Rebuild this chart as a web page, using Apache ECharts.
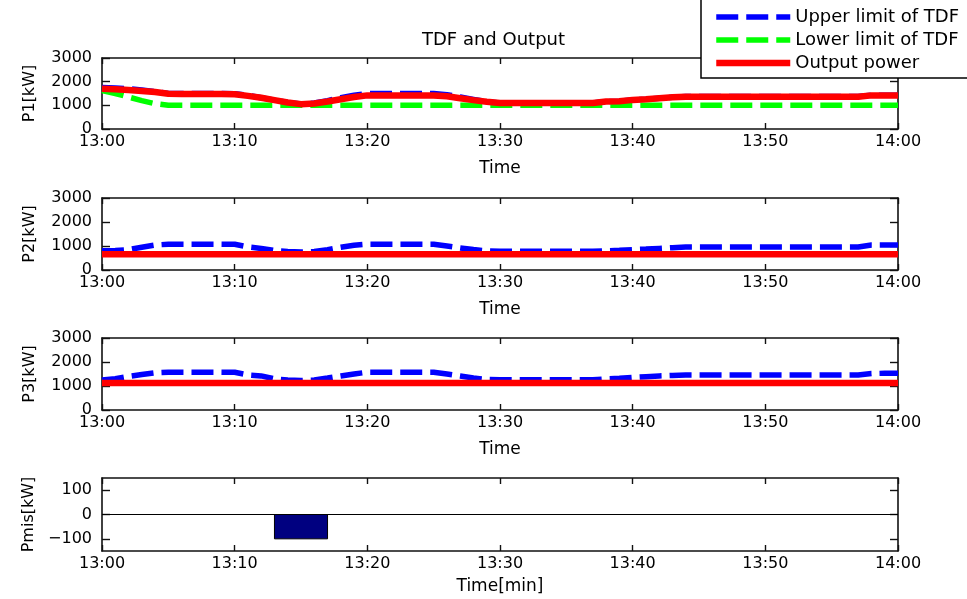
<!DOCTYPE html>
<html><head><meta charset="utf-8">
<script src="https://cdn.jsdelivr.net/npm/echarts@6/dist/echarts.min.js"></script>
<style>html,body{margin:0;padding:0;background:#fff}#c{width:967px;height:599px}</style>
</head><body><div id="c"></div>
<script>
// time in minutes after 13:00
const minutes = [0,1,2,3,4,5,6,7,8,9,10,11,12,13,14,15,16,17,18,19,20,21,22,23,24,25,26,27,28,29,30,
  31,32,33,34,35,36,37,38,39,40,41,42,43,44,45,46,47,48,49,50,51,52,53,54,55,56,57,58,59,60];
const timeTicks = [0,10,20,30,40,50,60];
const timeLabels = ['13:00','13:10','13:20','13:30','13:40','13:50','14:00'];

const p1Upper = [1750,1730,1700,1650,1580,1500,1500,1500,1500,1500,
  1490,1420,1320,1220,1120,1060,1100,1200,1320,1430,
  1500,1500,1500,1500,1500,1500,1450,1350,1250,1150,
  1100,1100,1100,1100,1100,1100,1100,1100,1160,1170,
  1230,1260,1300,1340,1370,1370,1370,1370,1370,1370,
  1370,1370,1370,1370,1370,1370,1370,1370,1430,1430,
  1430];
const p1Lower = [1620,1500,1350,1200,1070,1000,1000,1000,1000,1000,
  1000,1000,1000,1000,1000,1000,1000,1000,1000,1000,
  1000,1000,1000,1000,1000,1000,1000,1000,1000,1000,
  1000,1000,1000,1000,1000,1000,1000,1000,1000,1000,
  1000,1000,1000,1000,1000,1000,1000,1000,1000,1000,
  1000,1000,1000,1000,1000,1000,1000,1000,1000,1000,
  1000];
const p1Output = [1700,1680,1650,1610,1560,1490,1480,1480,1480,1480,
  1470,1400,1320,1220,1120,1050,1080,1160,1260,1350,
  1420,1420,1420,1420,1420,1420,1380,1300,1220,1150,
  1100,1100,1100,1100,1100,1100,1100,1100,1160,1170,
  1230,1260,1300,1340,1360,1360,1360,1360,1360,1360,
  1360,1360,1360,1360,1360,1360,1360,1360,1420,1420,
  1420];
const p2Upper = [800,810,850,950,1040,1075,1075,1075,1075,1075,
  1070,960,900,810,770,750,770,850,950,1030,
  1075,1075,1075,1075,1075,1075,1000,920,850,800,
  780,780,780,780,780,780,780,780,800,820,
  850,870,900,930,955,955,955,955,955,955,
  955,955,955,955,955,955,955,955,1040,1040,
  1040];
const p2Output = [660,660,660,660,660,660,660,660,660,660,
  660,660,660,660,660,660,660,660,660,660,
  660,660,660,660,660,660,660,660,660,660,
  660,660,660,660,660,660,660,660,660,660,
  660,660,660,660,660,660,660,660,660,660,
  660,660,660,660,660,660,660,660,660,660,
  660];
const p3Upper = [1250,1300,1400,1480,1550,1575,1575,1575,1575,1575,
  1570,1460,1420,1300,1250,1230,1250,1330,1420,1500,
  1575,1575,1575,1575,1575,1575,1500,1420,1330,1270,
  1260,1260,1260,1260,1260,1260,1260,1260,1300,1320,
  1360,1390,1420,1440,1460,1460,1460,1460,1460,1460,
  1460,1460,1460,1460,1460,1460,1460,1460,1520,1530,
  1530];
const p3Output = [1130,1130,1130,1130,1130,1130,1130,1130,1130,1130,
  1130,1130,1130,1130,1130,1130,1130,1130,1130,1130,
  1130,1130,1130,1130,1130,1130,1130,1130,1130,1130,
  1130,1130,1130,1130,1130,1130,1130,1130,1130,1130,
  1130,1130,1130,1130,1130,1130,1130,1130,1130,1130,
  1130,1130,1130,1130,1130,1130,1130,1130,1130,1130,
  1130];
const pmisStart = [13];
const pmisEnd = [17];
const pmisValue = [-100];
const pmisTicks = [-100,0,100];
const yNames = ['P1[kW]','P2[kW]','P3[kW]','Pmis[kW]'];
const xNames = ['Time','Time','Time','Time[min]'];

const FONT = 'DejaVu Sans';
const tops = [58,198,338,478];
const heights = [71,72,72,73];
const pair = arr => minutes.map((m,i)=>[m,arr[i]]);

const grids=[], xAxes=[], yAxes=[];
const lineStyle = {color:'#111', width:1.6};
for(let i=0;i<4;i++){
  grids.push({left:102, top:tops[i], width:796, height:heights[i], show:false});
  xAxes.push({type:'value', gridIndex:i, position:'bottom', min:0, max:60, interval:10,
    axisLine:{show:true, onZero:false, lineStyle},
    axisTick:{show:true, inside:true, length:6, lineStyle:{color:'#111',width:1.4}},
    axisLabel:{show:true, color:'#000', fontFamily:FONT, fontSize:16, margin:5,
      showMinLabel:true, showMaxLabel:true,
      formatter:v=>timeLabels[timeTicks.indexOf(v)]},
    splitLine:{show:false},
    name:xNames[i], nameLocation:'middle', nameGap: i<3?31:27,
    nameTextStyle:{color:'#000', fontFamily:FONT, fontSize:17}});
  xAxes.push({type:'value', gridIndex:i, position:'top', min:0, max:60, interval:10,
    axisLine:{show:true, onZero:false, lineStyle},
    axisTick:{show:true, inside:true, length:6, lineStyle:{color:'#111',width:1.4}},
    axisLabel:{show:false}, splitLine:{show:false}});
  const isP = i<3;
  const yBase = isP ? {min:0, max:3000, interval:1000} :
    {min:-150, max:150};
  yAxes.push(Object.assign({type:'value', gridIndex:i, position:'left',
    axisLine:{show:true, onZero:false, lineStyle},
    axisTick:{show:true, inside:true, length:8, lineStyle:{color:'#111',width:1.4},
      customValues: isP?undefined:pmisTicks},
    axisLabel:{show:true, color:'#000', fontFamily:FONT, fontSize:16, margin:10,
      showMinLabel:true, showMaxLabel:true,
      customValues: isP?undefined:pmisTicks,
      formatter:v=>String(v).replace('-','\u2212')},
    splitLine:{show:false},
    name:yNames[i], nameLocation:'middle', nameGap:64, nameRotate:90,
    nameTextStyle:{color:'#000', fontFamily:FONT, fontSize:16}}, yBase));
  yAxes.push(Object.assign({type:'value', gridIndex:i, position:'right',
    axisLine:{show:true, onZero:false, lineStyle},
    axisTick:{show:true, inside:true, length:8, lineStyle:{color:'#111',width:1.4},
      customValues: isP?undefined:pmisTicks},
    axisLabel:{show:false}, splitLine:{show:false}}, yBase));
}

const UP='Upper limit of TDF', LO='Lower limit of TDF', OUT='Output power';
const blue = {color:'#0000ff', width:5.5, type:[22,8]};
const green = {color:'#00ff00', width:5.5, type:[22,8]};
const red = {color:'#ff0000', width:6.5, type:'solid'};
function ls(name, data, style, gi, z){
  return {type:'line', name, xAxisIndex:2*gi, yAxisIndex:2*gi, data:pair(data),
    symbol:'none', showSymbol:false, lineStyle:style, itemStyle:{color:style.color},
    z, animation:false, silent:true};
}
const series = [
  ls(UP, p1Upper, blue, 0, 2), ls(LO, p1Lower, green, 0, 3), ls(OUT, p1Output, red, 0, 4),
  ls(UP, p2Upper, blue, 1, 2), ls(OUT, p2Output, red, 1, 4),
  ls(UP, p3Upper, blue, 2, 2), ls(OUT, p3Output, red, 2, 4),
  {type:'custom', name:'Pmis', xAxisIndex:6, yAxisIndex:6, animation:false, silent:true,
   data: pmisStart.map((s,i)=>[s, pmisEnd[i], pmisValue[i]]),
   encode:{x:[0,1], y:2},
   renderItem:(params, api)=>{
     const a = api.coord([api.value(0), 0]);
     const b = api.coord([api.value(1), api.value(2)]);
     return {type:'rect', shape:{x:Math.min(a[0],b[0]), y:Math.min(a[1],b[1]),
       width:Math.abs(b[0]-a[0]), height:Math.abs(b[1]-a[1])},
       style:{fill:'#000080', stroke:'#000', lineWidth:1}};
   }},
  {type:'line', name:'zero', xAxisIndex:6, yAxisIndex:6, data:[], animation:false, silent:true,
   markLine:{silent:true, symbol:'none', label:{show:false},
     lineStyle:{color:'#000', width:1.2, type:'solid'}, data:[{yAxis:0}]}}
];

const chart = echarts.init(document.getElementById('c'), null, {renderer:'canvas'});
chart.setOption({
  animation:false,
  backgroundColor:'#fff',
  title:{text:'TDF and Output', left:417, top:26,
    textStyle:{fontFamily:FONT, fontSize:18, fontWeight:'normal', color:'#000'}},
  legend:{orient:'vertical', left:701, top:-6, padding:[14,60,6,12],
    itemWidth:74, itemHeight:14, itemGap:5,
    borderColor:'#000', borderWidth:1.5, backgroundColor:'#fff',
    itemStyle:{opacity:0},
    lineStyle:{width:'inherit', type:'inherit', opacity:1},
    textStyle:{fontFamily:FONT, fontSize:18, color:'#000'},
    data:[UP, LO, OUT]},
  grid:grids, xAxis:xAxes, yAxis:yAxes, series
});
</script></body></html>
